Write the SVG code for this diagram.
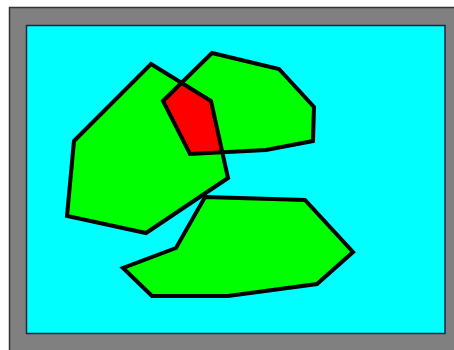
<svg xmlns="http://www.w3.org/2000/svg" width="454" height="350" viewBox="0 0 454 350">
<style>
.shape{fill:#00ff00;stroke:none}
.edge{fill:none;stroke:#000;stroke-width:4;stroke-linejoin:miter}
</style>
<defs>
<polygon id="pA" points="151,64 211,101 228,178 146,233 67,216 74,141"/>
<polygon id="pB" points="212,53 279,69 314,107 313,141 266,150 190,154 163,101"/>
<polygon id="pC" points="205,197 305,200 353,252 317,284 228,296 152,296 123,268 176,248"/>
<clipPath id="clipB"><use href="#pB"/></clipPath>
</defs>
<rect id="frame" x="9.5" y="7.5" width="450" height="350" fill="#808080" stroke="#333" stroke-width="1.5"/>
<rect id="canvas" x="26.5" y="25.5" width="418.5" height="308" fill="#00ffff" stroke="#224" stroke-width="1.5"/>
<g id="polyA"><use href="#pA" class="shape"/></g>
<g id="polyB"><use href="#pB" class="shape"/></g>
<g id="overlap"><use href="#pA" fill="#ff0000" clip-path="url(#clipB)"/></g>
<g id="polyC"><use href="#pC" class="shape"/></g>
<g id="outlines">
<use href="#pA" class="edge"/>
<use href="#pB" class="edge"/>
<use href="#pC" class="edge"/>
</g>
</svg>
